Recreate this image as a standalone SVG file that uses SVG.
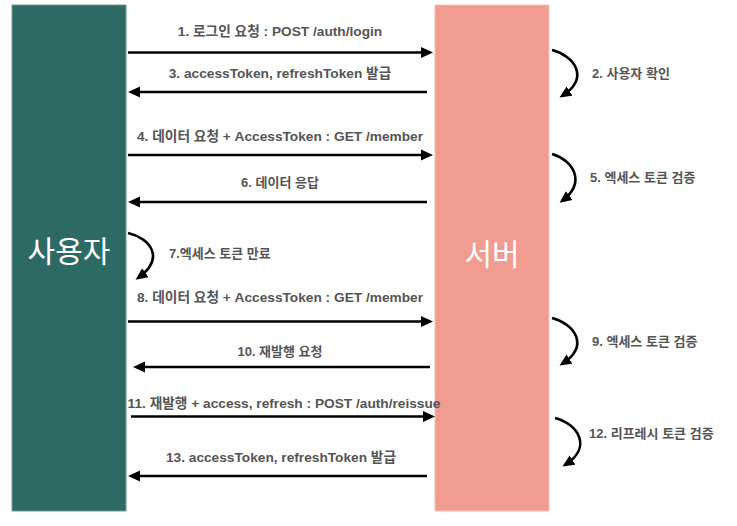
<svg xmlns="http://www.w3.org/2000/svg" width="737" height="526" viewBox="0 0 737 526">
<style>
.lbl{font-family:"Liberation Sans","Noto Sans CJK KR",sans-serif;font-weight:bold;font-size:13px;fill:#555555}
.mid{text-anchor:middle}
.wide{font-size:13.7px}
.big{font-family:"Noto Sans CJK KR","Liberation Sans",sans-serif;font-size:30px;fill:#ffffff;text-anchor:middle}
.ar{stroke:#000;stroke-width:2.6;fill:none}
</style>
<defs>
<marker id="ah" markerUnits="userSpaceOnUse" markerWidth="12" markerHeight="12" viewBox="0 0 12 12" refX="3" refY="6" orient="auto">
<path d="M0,0.5 L12,6 L0,11.5 z" fill="#000"/>
</marker>
<marker id="ahc" markerUnits="userSpaceOnUse" markerWidth="12" markerHeight="12" viewBox="0 0 12 12" refX="9" refY="6" orient="auto">
<path d="M0,0.5 L12,6 L0,11.5 z" fill="#000"/>
</marker>
</defs>
<rect width="737" height="526" fill="#ffffff"/>
<g id="user">
<rect x="12" y="5" width="114" height="506" fill="#2e6a64" stroke="#6f9a94" stroke-width="1"/>
<text class="big" x="69" y="262">사용자</text>
</g>
<g id="server">
<rect x="435" y="5" width="114" height="506" fill="#f19c90" stroke="#f6c0b8" stroke-width="1"/>
<text class="big" x="492" y="265">서버</text>
</g>
<g id="connectors">
<line class="ar" x1="128" y1="52.5" x2="424" y2="52.5" marker-end="url(#ah)"/>
<line class="ar" x1="427" y1="92" x2="137" y2="92" marker-end="url(#ah)"/>
<line class="ar" x1="128" y1="155" x2="424" y2="155" marker-end="url(#ah)"/>
<line class="ar" x1="427" y1="202" x2="137" y2="202" marker-end="url(#ah)"/>
<line class="ar" x1="128" y1="321.5" x2="424" y2="321.5" marker-end="url(#ah)"/>
<line class="ar" x1="430" y1="367" x2="142" y2="367" marker-end="url(#ah)"/>
<line class="ar" x1="131" y1="416.5" x2="426" y2="416.5" marker-end="url(#ah)"/>
<line class="ar" x1="427" y1="476" x2="137" y2="476" marker-end="url(#ah)"/>
<path class="ar" d="M128,233 C150,238 166,258 138,278" marker-end="url(#ahc)"/>
<path class="ar" d="M552,50 C575,56 590,78 562,96" marker-end="url(#ahc)"/>
<path class="ar" d="M552,154 C573,160 587,182 562,201" marker-end="url(#ahc)"/>
<path class="ar" d="M552,318 C575,324 590,346 562,364" marker-end="url(#ahc)"/>
<path class="ar" d="M555,418 C578,424 593,447 565,465" marker-end="url(#ahc)"/>
</g>
<g id="labels">
<text class="lbl mid wide" x="280" y="36">1. 로그인 요청 : POST /auth/login</text>
<text class="lbl mid wide" x="280" y="78">3. accessToken, refreshToken 발급</text>
<text class="lbl mid wide" x="280" y="141">4. 데이터 요청 + AccessToken : GET /member</text>
<text class="lbl mid" x="280" y="187">6. 데이터 응답</text>
<text class="lbl" x="169" y="258">7.엑세스 토큰 만료</text>
<text class="lbl mid wide" x="280" y="302">8. 데이터 요청 + AccessToken : GET /member</text>
<text class="lbl mid" x="280" y="356">10. 재발행 요청</text>
<text class="lbl mid wide" x="284" y="408">11. 재발행 + access, refresh : POST /auth/reissue</text>
<text class="lbl mid wide" x="281" y="462">13. accessToken, refreshToken 발급</text>
<text class="lbl" x="592" y="78">2. 사용자 확인</text>
<text class="lbl" x="590" y="182">5. 엑세스 토큰 검증</text>
<text class="lbl" x="592" y="346">9. 엑세스 토큰 검증</text>
<text class="lbl" x="589" y="438">12. 리프레시 토큰 검증</text>
</g>
</svg>
